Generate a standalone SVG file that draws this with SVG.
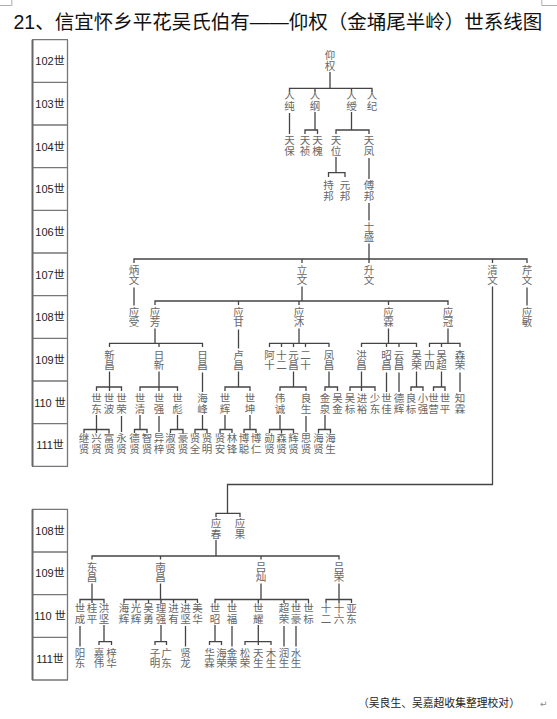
<svg xmlns="http://www.w3.org/2000/svg" width="557" height="719" viewBox="0 0 557 719">
<style>
.t{font-family:"Noto Sans CJK SC","Noto Sans CJK TC",sans-serif;font-size:10.5px;fill:#666;writing-mode:vertical-rl;text-orientation:upright;letter-spacing:0.2px}
.c{fill:none;stroke:#444;stroke-width:1.3}
.gl{font-family:"Liberation Sans","Noto Sans CJK SC",sans-serif;font-size:11px;fill:#222;text-anchor:middle}
.gb{fill:none;stroke:#777;stroke-width:1.3}
</style>
<rect width="557" height="719" fill="#fff"/>
<g id="cropmarks" fill="none" stroke="#999" stroke-width="0.8">
<path d="M0 5.5H11.8V0"/><path d="M557 5.5H541.8V0"/>
</g>
<text id="title" x="13.5" y="29" font-family="Liberation Sans,Noto Sans CJK SC,sans-serif" font-size="19.5" fill="#111">21、信宜怀乡平花吴氏伯有——仰权（金埇尾半岭）世系线图</text>

<g id="gen-upper">
<path class="gb" d="M32 39.7H68M32 82.3H68M32 125H68M32 167.7H68M32 210.3H68M32 253H68M32 295.7H68M32 338.3H68M32 381H68M32 423.7H68M32 466.3H68M67.5 39.7V466.3"/>
<path d="M32.5 39.7V466.3" stroke="#666" stroke-width="2" fill="none"/>
<text class="gl" x="50" y="65">102世</text>
<text class="gl" x="50" y="108">103世</text>
<text class="gl" x="50" y="150.5">104世</text>
<text class="gl" x="50" y="193">105世</text>
<text class="gl" x="50" y="235.5">106世</text>
<text class="gl" x="50" y="278.5">107世</text>
<text class="gl" x="50" y="321">108世</text>
<text class="gl" x="50" y="363.5">109世</text>
<text class="gl" x="50" y="406.5">110 世</text>
<text class="gl" x="50" y="449">111世</text>
</g>
<g id="gen-lower">
<path class="gb" d="M32 509.3H68M32 552H68M32 594.7H68M32 637.3H68M32 680H68M67.5 509.3V680"/>
<path d="M32.5 509.3V680" stroke="#666" stroke-width="2" fill="none"/>
<text class="gl" x="50" y="534.5">108世</text>
<text class="gl" x="50" y="577">109世</text>
<text class="gl" x="50" y="620">110 世</text>
<text class="gl" x="50" y="662.5">111世</text>
</g>

<g id="connectors" class="c">
<path d="M330 72V88.3M289.5 92V88.3H372V92M315 88.3v3.5M351.5 88.3v3.5"/>
<path d="M289.5 113V134"/>
<path d="M315 112V130M305 134V130H317.5V134"/>
<path d="M351.5 112V130M336 134V130H369V134"/>
<path d="M336 157V172.7M328.5 177V172.7H345V177"/>
<path d="M369 158V179"/>
<path d="M369 203V220.5"/>
<path d="M369 243.5V263M134 263V259H527V263M302 259v4M492.5 259v4"/>
<path d="M134 287.5V305.5"/>
<path d="M302 286.5V301M155 305V301H448V305M238.5 301v4M299 301v4M388.5 301v4"/>
<path d="M492.5 286.5V484.5H227.5V513.3M216 517V513.3H240V517"/>
<path d="M527 287.5V305.5"/>
<path d="M155 328.5V343.3M109.5 347V343.3H202.5V347M159 343.3v3.7"/>
<path d="M238.5 329.5V348.5"/>
<path d="M299 328.5V343.3M269.5 347V343.3H329V347M281.5 343.3v3.7M293.5 343.3v3.7M305.5 343.3v3.7"/>
<path d="M388.5 328.5V343.3M361.5 347V343.3H416.5V347M386.5 343.3v3.7M399 343.3v3.7"/>
<path d="M448 328.5V343.3M429.5 347V343.3H460V347M441.5 343.3v3.7"/>
<path d="M109.5 371.5V391M96.5 391V387H121.5V391"/>
<path d="M159 371.5V391M140 391V387H177.5V391"/>
<path d="M202.5 372.5V392"/>
<path d="M238.5 371.5V387M225 391V387H250V391"/>
<path d="M293.5 371.5V387M280 391V387H306V391"/>
<path d="M329 371.5V387M325 391V387H337.5V391"/>
<path d="M361.5 371.5V391M350 391V387H375V391"/>
<path d="M386.5 372.5V392"/>
<path d="M399 372.5V392"/>
<path d="M416.5 371.5V387M411 391V387H423V391"/>
<path d="M441.5 371.5V387M433.5 391V387H445V391"/>
<path d="M460 372.5V392"/>
<path d="M96.5 415V433M84 433V429.5H109V433"/>
<path d="M121.5 416V432"/>
<path d="M140 415V429.5M134.5 433V429.5H147V433"/>
<path d="M159 416V432"/>
<path d="M177.5 415V429.5M170.5 433V429.5H183V433"/>
<path d="M202.5 415V429.5M195 433V429.5H207V433"/>
<path d="M225 415V429.5M220 433V429.5H232V433"/>
<path d="M250 415V429.5M244 433V429.5H256V433"/>
<path d="M280 415V429.5M269.5 433V429.5H293.5V433M281.5 429.5v3.5"/>
<path d="M306 416V432"/>
<path d="M325 415V429.5M318.5 433V429.5H330.5V433"/>
<path d="M216 540V556M92 559.5V556H339V559.5M160.5 556v3.5M261 556v3.5"/>
<path d="M92 583.5V603M80 603V599.5H104V603"/>
<path d="M160.5 583.5V599.5M124 603V599.5H197.5V603M136 599.5v3.5M148.5 599.5v3.5M161 599.5v3.5M173.5 599.5v3.5M185.5 599.5v3.5"/>
<path d="M261 583.5V599.5M215 603V599.5H308.5V603M232 599.5v3.5M258.3 599.5v3.5M284 599.5v3.5M296 599.5v3.5"/>
<path d="M339 583.5V603M326 603V599.5H351.5V603"/>
<path d="M80 626V646.5"/>
<path d="M104 625V641.7M99 645V641.7H111.5V645"/>
<path d="M161 625V641.7M155 645V641.7H166.5V645"/>
<path d="M185.5 626V646.5"/>
<path d="M215 625V641.7M209.5 645V641.7H221.5V645"/>
<path d="M232 626V646.5"/>
<path d="M258.3 625V645M245 645V641.7H271V645"/>
<path d="M284 626V646.5"/>
<path d="M296 626V646.5"/>
</g>

<g id="nodes">
<g id="g102"><text class="t" x="330" y="50">仰权</text></g>
<g id="g103-1"><text class="t" x="289.5" y="90">人纯</text></g>
<g id="g103-2"><text class="t" x="315" y="90">人纲</text></g>
<g id="g103-3"><text class="t" x="351.5" y="90">人绶</text></g>
<g id="g103-4"><text class="t" x="372" y="90">人纪</text></g>
<g id="g104-1"><text class="t" x="289.5" y="135">天保</text></g>
<g id="g104-2"><text class="t" x="305" y="135">天祯</text></g>
<g id="g104-3"><text class="t" x="317.5" y="135">天槐</text></g>
<g id="g104-4"><text class="t" x="336" y="135">天位</text></g>
<g id="g104-5"><text class="t" x="369" y="135">天凤</text></g>
<g id="g105-1"><text class="t" x="328.5" y="180">持邦</text></g>
<g id="g105-2"><text class="t" x="345" y="180">元邦</text></g>
<g id="g105-3"><text class="t" x="369" y="180">傅邦</text></g>
<g id="g106-1"><text class="t" x="369" y="221.5">士盛</text></g>
<g id="g107-1"><text class="t" x="134" y="264.5">炳文</text></g>
<g id="g107-2"><text class="t" x="302" y="264.5">立文</text></g>
<g id="g107-3"><text class="t" x="369" y="264.5">升文</text></g>
<g id="g107-4"><text class="t" x="492.5" y="264.5">清文</text></g>
<g id="g107-5"><text class="t" x="527" y="264.5">芹文</text></g>
<g id="g108-1"><text class="t" x="134" y="306.5">应受</text></g>
<g id="g108-2"><text class="t" x="155" y="306.5">应芳</text></g>
<g id="g108-3"><text class="t" x="238.5" y="306.5">应甘</text></g>
<g id="g108-4"><text class="t" x="299" y="306.5">应沐</text></g>
<g id="g108-5"><text class="t" x="388.5" y="306.5">应霖</text></g>
<g id="g108-6"><text class="t" x="448" y="306.5">应冠</text></g>
<g id="g108-7"><text class="t" x="527" y="306.5">应敏</text></g>
<g id="g109-1"><text class="t" x="109.5" y="349.5">新昌</text></g>
<g id="g109-2"><text class="t" x="159" y="349.5">日新</text></g>
<g id="g109-3"><text class="t" x="202.5" y="349.5">日昌</text></g>
<g id="g109-4"><text class="t" x="238.5" y="349.5">卢昌</text></g>
<g id="g109-5"><text class="t" x="269.5" y="349.5">阿十</text></g>
<g id="g109-6"><text class="t" x="281.5" y="349.5">十二</text></g>
<g id="g109-7"><text class="t" x="293.5" y="349.5">元昌</text></g>
<g id="g109-8"><text class="t" x="305.5" y="349.5">二十</text></g>
<g id="g109-9"><text class="t" x="329" y="349.5">凤昌</text></g>
<g id="g109-10"><text class="t" x="361.5" y="349.5">洪昌</text></g>
<g id="g109-11"><text class="t" x="386.5" y="349.5">昭昌</text></g>
<g id="g109-12"><text class="t" x="399" y="349.5">云昌</text></g>
<g id="g109-13"><text class="t" x="416.5" y="349.5">吴荣</text></g>
<g id="g109-14"><text class="t" x="429.5" y="349.5">十四</text></g>
<g id="g109-15"><text class="t" x="441.5" y="349.5">吴超</text></g>
<g id="g109-16"><text class="t" x="460" y="349.5">森荣</text></g>
<g id="g110-1"><text class="t" x="96.5" y="393">世东</text></g>
<g id="g110-2"><text class="t" x="109" y="393">世波</text></g>
<g id="g110-3"><text class="t" x="121.5" y="393">世荣</text></g>
<g id="g110-4"><text class="t" x="140" y="393">世清</text></g>
<g id="g110-5"><text class="t" x="159" y="393">世强</text></g>
<g id="g110-6"><text class="t" x="177.5" y="393">世彪</text></g>
<g id="g110-7"><text class="t" x="202.5" y="393">海峰</text></g>
<g id="g110-8"><text class="t" x="225" y="393">世辉</text></g>
<g id="g110-9"><text class="t" x="250" y="393">世坤</text></g>
<g id="g110-10"><text class="t" x="280" y="393">伟诚</text></g>
<g id="g110-11"><text class="t" x="306" y="393">良生</text></g>
<g id="g110-12"><text class="t" x="325" y="393">金泉</text></g>
<g id="g110-13"><text class="t" x="337.5" y="393">吴金</text></g>
<g id="g110-14"><text class="t" x="350" y="393">吴标</text></g>
<g id="g110-15"><text class="t" x="362" y="393">进裕</text></g>
<g id="g110-16"><text class="t" x="375" y="393">少东</text></g>
<g id="g110-17"><text class="t" x="386.5" y="393">世佳</text></g>
<g id="g110-18"><text class="t" x="399" y="393">德辉</text></g>
<g id="g110-19"><text class="t" x="411" y="393">良标</text></g>
<g id="g110-20"><text class="t" x="423" y="393">小强</text></g>
<g id="g110-21"><text class="t" x="433.5" y="393">世营</text></g>
<g id="g110-22"><text class="t" x="445" y="393">世平</text></g>
<g id="g110-23"><text class="t" x="460" y="393">知霖</text></g>
<g id="g111-1"><text class="t" x="84" y="433">继贤</text></g>
<g id="g111-2"><text class="t" x="96.5" y="433">兴贤</text></g>
<g id="g111-3"><text class="t" x="109" y="433">富贤</text></g>
<g id="g111-4"><text class="t" x="121.5" y="433">永贤</text></g>
<g id="g111-5"><text class="t" x="134.5" y="433">德贤</text></g>
<g id="g111-6"><text class="t" x="147" y="433">智贤</text></g>
<g id="g111-7"><text class="t" x="159" y="433">异梓</text></g>
<g id="g111-8"><text class="t" x="170.5" y="433">淑贤</text></g>
<g id="g111-9"><text class="t" x="183" y="433">豪贤</text></g>
<g id="g111-10"><text class="t" x="195" y="433">贤全</text></g>
<g id="g111-11"><text class="t" x="207" y="433">贤明</text></g>
<g id="g111-12"><text class="t" x="220" y="433">贤安</text></g>
<g id="g111-13"><text class="t" x="232" y="433">林锋</text></g>
<g id="g111-14"><text class="t" x="244" y="433">博聪</text></g>
<g id="g111-15"><text class="t" x="256" y="433">博仁</text></g>
<g id="g111-16"><text class="t" x="269.5" y="433">勋贤</text></g>
<g id="g111-17"><text class="t" x="281.5" y="433">森贤</text></g>
<g id="g111-18"><text class="t" x="293.5" y="433">辉贤</text></g>
<g id="g111-19"><text class="t" x="306" y="433">思贤</text></g>
<g id="g111-20"><text class="t" x="318.5" y="433">海贤</text></g>
<g id="g111-21"><text class="t" x="330.5" y="433">海生</text></g>
<g id="s108-1"><text class="t" x="216" y="518">应春</text></g>
<g id="s108-2"><text class="t" x="240" y="518">应果</text></g>
<g id="s109-1"><text class="t" x="92" y="561.5">东昌</text></g>
<g id="s109-2"><text class="t" x="160.5" y="561.5">南昌</text></g>
<g id="s109-3"><text class="t" x="261" y="561.5">吕灿</text></g>
<g id="s109-4"><text class="t" x="339" y="561.5">吕荣</text></g>
<g id="s110-1"><text class="t" x="80" y="603">世成</text></g>
<g id="s110-2"><text class="t" x="92" y="603">桂平</text></g>
<g id="s110-3"><text class="t" x="104" y="603">洪坚</text></g>
<g id="s110-4"><text class="t" x="124" y="603">海辉</text></g>
<g id="s110-5"><text class="t" x="136" y="603">光辉</text></g>
<g id="s110-6"><text class="t" x="148.5" y="603">吴勇</text></g>
<g id="s110-7"><text class="t" x="161" y="603">理强</text></g>
<g id="s110-8"><text class="t" x="173.5" y="603">进有</text></g>
<g id="s110-9"><text class="t" x="185.5" y="603">进坚</text></g>
<g id="s110-10"><text class="t" x="197.5" y="603">美华</text></g>
<g id="s110-11"><text class="t" x="215" y="603">世昭</text></g>
<g id="s110-12"><text class="t" x="232" y="603">世福</text></g>
<g id="s110-13"><text class="t" x="258.3" y="603">世耀</text></g>
<g id="s110-14"><text class="t" x="284" y="603">超荣</text></g>
<g id="s110-15"><text class="t" x="296" y="603">世豪</text></g>
<g id="s110-16"><text class="t" x="308.5" y="603">世标</text></g>
<g id="s110-17"><text class="t" x="326" y="603">十二</text></g>
<g id="s110-18"><text class="t" x="339" y="603">十六</text></g>
<g id="s110-19"><text class="t" x="351.5" y="603">亚东</text></g>
<g id="s111-1"><text class="t" x="80" y="647.5">阳东</text></g>
<g id="s111-2"><text class="t" x="99" y="647.5">嘉伟</text></g>
<g id="s111-3"><text class="t" x="111.5" y="647.5">梓华</text></g>
<g id="s111-4"><text class="t" x="155" y="647.5">子明</text></g>
<g id="s111-5"><text class="t" x="166.5" y="647.5">广东</text></g>
<g id="s111-6"><text class="t" x="185.5" y="647.5">贤龙</text></g>
<g id="s111-7"><text class="t" x="209.5" y="647.5">华霖</text></g>
<g id="s111-8"><text class="t" x="221.5" y="647.5">海荣</text></g>
<g id="s111-9"><text class="t" x="232" y="647.5">金荣</text></g>
<g id="s111-10"><text class="t" x="245" y="647.5">松荣</text></g>
<g id="s111-11"><text class="t" x="258.3" y="647.5">天生</text></g>
<g id="s111-12"><text class="t" x="271" y="647.5">木生</text></g>
<g id="s111-13"><text class="t" x="284" y="647.5">润生</text></g>
<g id="s111-14"><text class="t" x="296" y="647.5">水生</text></g>
</g>

<text id="footer" x="358" y="707" font-family="Liberation Sans,Noto Sans CJK SC,sans-serif" font-size="10.8" fill="#222">（吴良生、吴嘉超收集整理校对）</text>
<text id="mark" x="540" y="707" font-family="DejaVu Sans,sans-serif" font-size="9" fill="#888">↵</text>
</svg>
